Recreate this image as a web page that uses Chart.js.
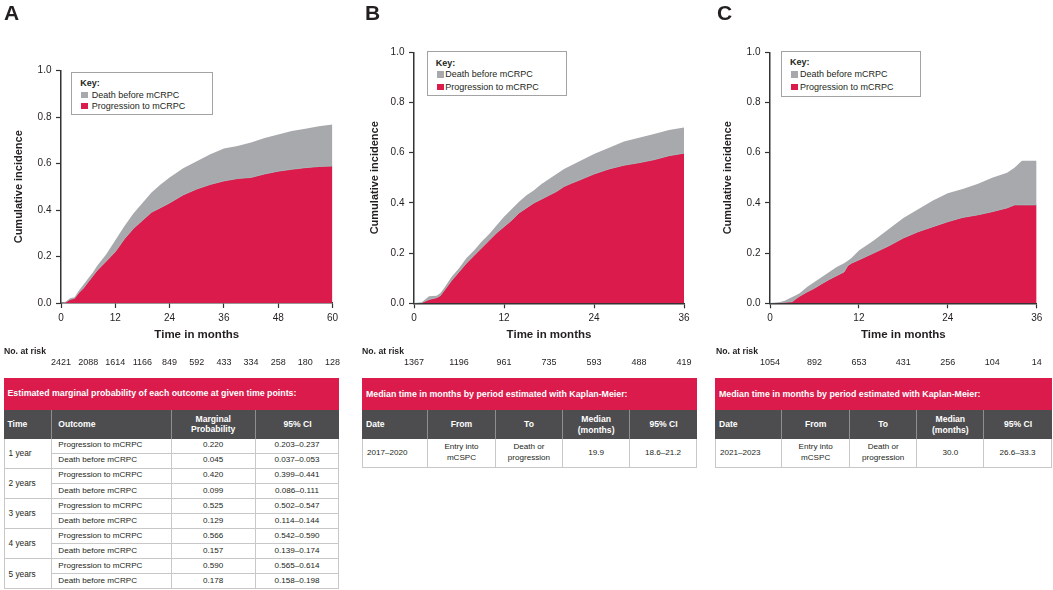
<!DOCTYPE html>
<html><head><meta charset="utf-8">
<script src="https://cdn.jsdelivr.net/npm/chart.js@4.4.1/dist/chart.umd.min.js"></script>
<style>
html,body{margin:0;padding:0;background:#fff;}
#root{position:relative;width:1053px;height:590px;overflow:hidden;font-family:"Liberation Sans",Arial,Helvetica,sans-serif;color:#231f20;background:#fff;}
canvas{position:absolute;top:0;}
.plabel{position:absolute;font-weight:bold;font-size:21px;line-height:21px;top:2px;}
.key{position:absolute;border:1px solid #a3a3a3;background:#fff;box-sizing:border-box;}
.key .t{position:absolute;font-size:9px;line-height:10px;white-space:nowrap;}
.key .k{font-weight:bold;}
.key .sq{position:absolute;width:7px;height:6.5px;}
.c{position:absolute;box-sizing:border-box;display:flex;align-items:center;font-size:8.1px;line-height:10.5px;white-space:nowrap;}
.red{background:#DA1B4B;color:#fff;font-weight:bold;font-size:8.8px;}
.dk{background:#4D4D4F;color:#fff;font-weight:bold;font-size:8.6px;line-height:10.5px;border-right:1px solid #8e8e90;}
.dt{border-right:1px solid #c8c8c8;border-bottom:1px solid #c8c8c8;color:#231f20;}
</style>
</head>
<body>
<div id="root">
  <canvas id="cA" width="350" height="372" style="left:0px"></canvas>
  <canvas id="cB" width="350" height="372" style="left:350px"></canvas>
  <canvas id="cC" width="353" height="372" style="left:700px"></canvas>
  <div class="plabel" style="left:4px">A</div>
  <div class="plabel" style="left:365px">B</div>
  <div class="plabel" style="left:717px">C</div>
</div>
<script>
// ---------------- DATA ----------------
const seriesNames = ['Death before mCRPC', 'Progression to mCRPC'];

// Panel A (0-60 months)
const monthsA = [0,1,2,3,4,5,6,7,8,9,10,11,12,14,16,18,20,22,24,27,30,33,36,39,42,45,48,51,54,57,60];
const progressionA = [0,0.003,0.015,0.02,0.045,0.065,0.09,0.115,0.14,0.16,0.18,0.20,0.22,0.275,0.32,0.355,0.39,0.41,0.43,0.465,0.49,0.51,0.525,0.535,0.54,0.555,0.567,0.575,0.582,0.587,0.589];
const deathA = [0,0.001,0.005,0.005,0.01,0.015,0.015,0.015,0.02,0.025,0.03,0.04,0.05,0.055,0.065,0.075,0.085,0.10,0.11,0.115,0.12,0.13,0.14,0.14,0.15,0.155,0.158,0.165,0.168,0.173,0.179];
const riskTimesA = [0,6,12,18,24,30,36,42,48,54,60];
const atRiskA = [2421,2088,1614,1166,849,592,433,334,258,180,128];

// Panel B (0-36 months)
const monthsB = [0,1,2,3,3.5,4,5,6,7,8,9,10,11,12,13,14,15,16,17,18,19,20,21,22,24,26,28,30,32,34,36];
const progressionB = [0,0.002,0.015,0.022,0.03,0.05,0.09,0.125,0.16,0.19,0.22,0.25,0.28,0.305,0.33,0.36,0.38,0.40,0.415,0.43,0.445,0.465,0.478,0.49,0.515,0.535,0.55,0.56,0.572,0.588,0.598];
const deathB = [0,0.001,0.013,0.008,0.01,0.01,0.015,0.015,0.02,0.02,0.025,0.025,0.03,0.04,0.045,0.045,0.05,0.05,0.06,0.065,0.07,0.07,0.072,0.075,0.08,0.085,0.095,0.10,0.103,0.102,0.102];
const riskTimesB = [0,6,12,18,24,30,36];
const atRiskB = [1367,1196,961,735,593,488,419];

// Panel C (0-36 months)
const monthsC = [0,1,2,3,3.5,4,5,6,7,8,9,10,10.5,11,12,14,16,18,20,22,24,26,28,30,32,33,34,36];
const progressionC = [0,0.002,0.004,0.006,0.018,0.028,0.045,0.06,0.078,0.095,0.11,0.125,0.15,0.16,0.173,0.2,0.228,0.26,0.285,0.305,0.325,0.342,0.352,0.365,0.38,0.392,0.392,0.392];
const deathC = [0,0,0.006,0.019,0.014,0.012,0.02,0.025,0.027,0.03,0.035,0.035,0.02,0.02,0.037,0.05,0.067,0.08,0.09,0.105,0.113,0.113,0.123,0.135,0.14,0.148,0.176,0.176];
const riskTimesC = [0,6,12,18,24,30,36];
const atRiskC = [1054,892,653,431,256,104,14];

const yTicks = [0,0.2,0.4,0.6,0.8,1.0];

// Table A
const tableATitle = 'Estimated marginal probability of each outcome at given time points:';
const tableAHeaders = ['Time','Outcome','Marginal<br>Probability','95% CI'];
const tableATimes = ['1 year','2 years','3 years','4 years','5 years'];
const tableAOutcomes = ['Progression to mCRPC','Death before mCRPC'];
const tableAProgProb = [0.220,0.420,0.525,0.566,0.590];
const tableAProgCI = ['0.203–0.237','0.399–0.441','0.502–0.547','0.542–0.590','0.565–0.614'];
const tableADeathProb = [0.045,0.099,0.129,0.157,0.178];
const tableADeathCI = ['0.037–0.053','0.086–0.111','0.114–0.144','0.139–0.174','0.158–0.198'];

// Tables B, C
const tableKMTitle = 'Median time in months by period estimated with Kaplan-Meier:';
const tableKMHeaders = ['Date','From','To','Median<br>(months)','95% CI'];
const tableBRow = ['2017–2020','Entry into<br>mCSPC','Death or<br>progression','19.9','18.6–21.2'];
const tableCRow = ['2021–2023','Entry into<br>mCSPC','Death or<br>progression','30.0','26.6–33.3'];

// ---------------- STYLE ----------------
const F = '"Liberation Sans", Arial, Helvetica, sans-serif';
const RED = '#DA1B4B', GREY = '#A7A9AC', INK = '#231f20', AX = '#333333';

function atRiskPlugin(labelX, times, vals){
  return {
    id:'atRisk',
    afterDraw(chart){
      const c = chart.ctx; c.save();
      c.fillStyle = INK; c.textBaseline = 'middle';
      c.font = 'bold 8.7px ' + F; c.textAlign = 'left';
      c.fillText('No. at risk', labelX, 352);
      c.font = '9px ' + F; c.textAlign = 'center';
      times.forEach((t,i)=>c.fillText(String(vals[i]), chart.scales.x.getPixelForValue(t), 363));
      c.restore();
    }
  };
}

function panel(id, times, prog, death, xMax, lay, risk){
  return new Chart(document.getElementById(id), {
    type:'line',
    data:{datasets:[
      {label:seriesNames[1], data:times.map((t,i)=>({x:t,y:prog[i]})), backgroundColor:RED,
       borderColor:'rgba(150,196,192,0.9)', borderWidth:0.8, fill:'origin', pointRadius:0, tension:0},
      {label:seriesNames[0], data:times.map((t,i)=>({x:t,y:death[i]})), backgroundColor:GREY,
       borderColor:GREY, borderWidth:0, fill:'-1', pointRadius:0, tension:0}
    ]},
    options:{
      responsive:false, animation:false, devicePixelRatio:1,
      layout:{padding:{left:0, top:lay.top, right:lay.right, bottom:0}},
      plugins:{legend:{display:false}, tooltip:{enabled:false}},
      scales:{
        x:{type:'linear', min:0, max:xMax,
           ticks:{stepSize:12, font:{size:10, family:F}, color:INK, padding:4, maxRotation:0},
           grid:{drawOnChartArea:false, tickLength:5, tickColor:AX, tickWidth:1.2},
           border:{color:AX, width:1.5},
           title:{display:true, text:'Time in months', color:INK, font:{size:11.5, weight:'bold', family:F}, padding:{top:0, bottom:30.6}},
           afterFit:s=>{ s.height = 372 - lay.bottom; }},
        y:{stacked:true, min:0, max:1,
           afterBuildTicks:s=>{ s.ticks = yTicks.map(v=>({value:v})); },
           ticks:{callback:v=>Number(v).toFixed(1), font:{size:10, family:F}, color:INK, padding:4.5},
           grid:{drawOnChartArea:false, tickLength:5, tickColor:AX, tickWidth:1.2},
           border:{color:AX, width:1.5},
           title:{display:true, text:'Cumulative incidence', color:INK, font:{size:11, weight:'bold', family:F}, padding:{top:lay.yTitle, bottom:0}},
           afterFit:s=>{ s.width = lay.left; }}
      }
    },
    plugins:[atRiskPlugin(risk.labelX, risk.times, risk.vals)]
  });
}

panel('cA', monthsA, progressionA, deathA, 60, {left:61, right:17.5, top:70.5, bottom:303, yTitle:11.9}, {labelX:4, times:riskTimesA, vals:atRiskA});
panel('cB', monthsB, progressionB, deathB, 36, {left:64, right:16, top:52.3, bottom:303.3, yTitle:18.6}, {labelX:12, times:riskTimesB, vals:atRiskB});
panel('cC', monthsC, progressionC, deathC, 36, {left:70, right:16.3, top:52.3, bottom:303.3, yTitle:21.8}, {labelX:16, times:riskTimesC, vals:atRiskC});

// ---------------- HTML overlays ----------------
const root = document.getElementById('root');
function el(cls, x, y, w, h, html, extra){
  const d = document.createElement('div');
  d.className = cls;
  d.style.left = x+'px'; d.style.top = y+'px';
  if (w!=null) d.style.width = w+'px';
  if (h!=null) d.style.height = h+'px';
  if (html!=null) d.innerHTML = html;
  if (extra) Object.assign(d.style, extra);
  root.appendChild(d);
  return d;
}
function key(x, y, w, h, L){
  const box = el('key', x, y, w, h);
  const add = (cls, lx, cy, html, bg) => {
    const d = document.createElement('div');
    d.className = cls; d.style.left = lx+'px';
    if (bg){ d.style.top = (cy-3.25)+'px'; d.style.background = bg; }
    else { d.style.top = (cy-5)+'px'; d.innerHTML = html; }
    box.appendChild(d);
  };
  add('t k', L.kx, L.r0, 'Key:');
  add('sq', L.sx, L.r1, null, GREY);
  add('t', L.tx, L.r1, seriesNames[0]);
  add('sq', L.sx, L.r2, null, RED);
  add('t', L.tx, L.r2, seriesNames[1]);
}
key(71.3, 71.7, 141.4, 43.4, {kx:8, r0:10, sx:9, r1:22.3, r2:33.5, tx:19.5});
key(427.3, 51, 140, 45.3, {kx:7.5, r0:10.5, sx:8.5, r1:22.3, r2:35, tx:17});
key(781, 51, 140, 45.7, {kx:8, r0:10, sx:9, r1:22.3, r2:35, tx:18});

// Table A
(function(){
  const xs = [4, 52.3, 171.7, 255.7, 339.3];
  el('c red', xs[0], 377.5, xs[4]-xs[0], 32, tableATitle, {paddingLeft:'3.5px'});
  const hy = 409.5, hh = 29;
  const hpad = ['3.5px','6px',null,null];
  tableAHeaders.forEach((t,i)=>{
    const d = el('c dk', xs[i], hy, xs[i+1]-xs[i], hh, t, {borderRight: i===3?'none':'1px solid #8e8e90'});
    if (hpad[i]) d.style.paddingLeft = hpad[i]; else { d.style.justifyContent='center'; d.style.textAlign='center'; }
  });
  const y0 = 438.5, rh = 15.1;
  tableATimes.forEach((tl, g)=>{
    const gy = y0 + g*2*rh;
    el('c dt', xs[0], gy, xs[1]-xs[0], 2*rh, tl, {paddingLeft:'3.5px', borderLeft:'1px solid #c8c8c8', fontSize:'8.3px'});
    const rows = [[tableAOutcomes[0], tableAProgProb[g], tableAProgCI[g]], [tableAOutcomes[1], tableADeathProb[g], tableADeathCI[g]]];
    rows.forEach((r, k)=>{
      const ry = gy + k*rh;
      el('c dt', xs[1], ry, xs[2]-xs[1], rh, r[0], {paddingLeft:'6px'});
      el('c dt', xs[2], ry, xs[3]-xs[2], rh, r[1].toFixed(3), {justifyContent:'center'});
      el('c dt', xs[3], ry, xs[4]-xs[3], rh, r[2], {justifyContent:'center'});
    });
  });
})();

// Tables B and C
function kmTable(xs, row){
  el('c red', xs[0], 377.7, xs[5]-xs[0], 32.3, tableKMTitle, {paddingLeft:'4px'});
  tableKMHeaders.forEach((t,i)=>{
    const d = el('c dk', xs[i], 410, xs[i+1]-xs[i], 29, t, {borderRight: i===4?'none':'1px solid #8e8e90'});
    if (i===0) d.style.paddingLeft='4px'; else { d.style.justifyContent='center'; d.style.textAlign='center'; }
  });
  row.forEach((t,i)=>{
    el('c dt', xs[i], 439, xs[i+1]-xs[i], 28.7, t, i===0?{paddingLeft:'4px', borderLeft:'1px solid #c8c8c8'}:{justifyContent:'center', textAlign:'center'});
  });
}
kmTable([362, 428.3, 495.7, 563.3, 630, 697], tableBRow);
kmTable([715, 782.3, 850, 917.3, 984.3, 1051.7], tableCRow);
</script>
</body></html>
